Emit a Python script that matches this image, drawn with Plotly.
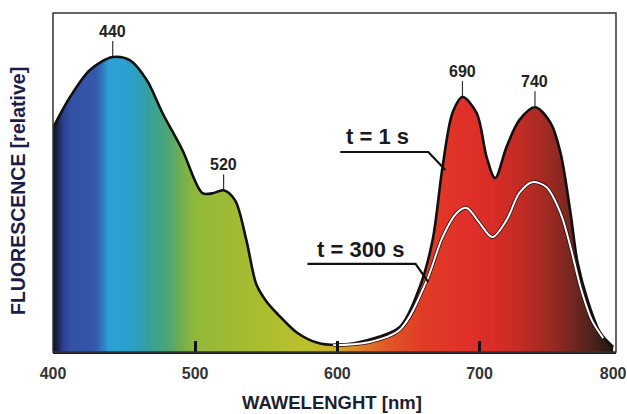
import numpy as np
import plotly.graph_objects as go

# ---------------- data ----------------
wl_1s = [400, 412, 426, 442, 454, 466, 477, 491, 505, 512, 520, 528, 536, 543,
         550, 558, 572, 586, 602, 621, 644, 658, 667, 674, 681, 688, 698, 705,
         711, 719, 728, 739, 750, 757, 764, 769, 776, 785, 794]
fl_1s = [0.661, 0.752, 0.832, 0.870, 0.861, 0.802, 0.705, 0.596, 0.469, 0.468,
         0.477, 0.448, 0.330, 0.200, 0.150, 0.112, 0.056, 0.027, 0.021, 0.035,
         0.074, 0.192, 0.330, 0.546, 0.705, 0.752, 0.705, 0.575, 0.513, 0.605,
         0.684, 0.722, 0.676, 0.587, 0.410, 0.263, 0.153, 0.056, 0.015]

wl_300s = [597, 621, 644, 663, 674, 684, 691, 700, 709, 719, 728, 737, 747,
           757, 764, 771, 779, 787]
fl_300s = [0.020, 0.028, 0.066, 0.212, 0.339, 0.410, 0.425, 0.381, 0.339,
           0.389, 0.469, 0.501, 0.487, 0.410, 0.310, 0.192, 0.094, 0.041]

peak_labels = ["440", "520", "690", "740"]
peak_wl = [442, 520, 688, 739]

tick_vals = [400, 500, 600, 700, 794]
tick_text = ["400", "500", "600", "700", "800"]
major_ticks = [500, 600, 700]

spectrum_wl = [400, 403, 407, 412, 430, 436, 439, 452, 460, 468, 482, 492,
               500, 540, 580, 598, 615, 635, 660, 690, 710, 730, 750, 766,
               780, 794]
spectrum_col = ["#101012", "#1a2248", "#2c3e8e", "#3250a4", "#3458aa",
                "#2f82c4", "#2ea0d8", "#2aa0d0", "#2e9eb8", "#36a09c",
                "#50a670", "#78b048", "#90b83a", "#a8bc30", "#bcc02c",
                "#ccb02a", "#e0802a", "#e05826", "#e03c24", "#e0302a",
                "#d82c26", "#c02c24", "#9a2a22", "#722620", "#4a221a",
                "#1e1812"]

# leader labels: text, text position, leader polyline
leader_text = ["t = 1 s", "t = 300 s"]
leader_text_x = [628, 616]
leader_text_y = [0.637, 0.301]
leader_x = [[602, 664, 676], [579, 655, 664]]
leader_y = [[0.590, 0.590, 0.537], [0.260, 0.260, 0.206]]

# ---------------- figure ----------------
FONT = "Liberation Sans, Arial, Helvetica, sans-serif"
lo, hi = min(wl_1s), max(wl_1s)
cscale = [[(w - lo) / (hi - lo), c] for w, c in zip(spectrum_wl, spectrum_col)]

fig = go.Figure()

fig.add_trace(go.Scatter(
    x=wl_1s, y=fl_1s, mode="lines", fill="tozeroy",
    fillgradient=dict(type="horizontal", colorscale=cscale),
    line=dict(color="#111111", width=2.6, shape="spline", smoothing=0.9),
    hoverinfo="skip", showlegend=False))

fig.add_trace(go.Scatter(
    x=wl_300s, y=fl_300s, mode="lines",
    line=dict(color="#2a1010", width=3.6, shape="spline", smoothing=0.9),
    hoverinfo="skip", showlegend=False))
fig.add_trace(go.Scatter(
    x=wl_300s, y=fl_300s, mode="lines",
    line=dict(color="#ffffff", width=2.0, shape="spline", smoothing=0.9),
    hoverinfo="skip", showlegend=False))

for lx, ly in zip(leader_x, leader_y):
    fig.add_trace(go.Scatter(x=lx, y=ly, mode="lines",
                             line=dict(color="#111111", width=2.2),
                             hoverinfo="skip", showlegend=False))

# invisible trace to carry the label axis
fig.add_trace(go.Scatter(x=[400], y=[0], xaxis="x2", mode="markers",
                         marker=dict(opacity=0), hoverinfo="skip",
                         showlegend=False))

peak_y = np.interp(peak_wl, wl_1s, fl_1s)
for t, px, py in zip(peak_labels, peak_wl, peak_y):
    fig.add_annotation(x=px, y=py, text="<b>%s</b>" % t, showarrow=True,
                       arrowhead=0, arrowwidth=1.2, arrowcolor="#333333",
                       ax=0, ay=-26, standoff=1,
                       font=dict(family=FONT, size=16, color="#222222"))

for t, tx, ty in zip(leader_text, leader_text_x, leader_text_y):
    fig.add_annotation(x=tx, y=ty, text="<b>%s</b>" % t, showarrow=False,
                       font=dict(family=FONT, size=22, color="#1a1a1a"))

fig.add_annotation(xref="paper", yref="paper", x=0, y=0.475, xshift=-35,
                   xanchor="center", yanchor="middle",
                   text="<b>FLUORESCENCE [relative]</b>", textangle=-90,
                   showarrow=False,
                   font=dict(family=FONT, size=19.5, color="#1c1c4a"))
fig.add_annotation(xref="paper", yref="paper", x=0.496, y=0, yshift=-50,
                   xanchor="center", yanchor="middle",
                   text="<b>WAWELENGHT [nm]</b>", showarrow=False,
                   font=dict(family=FONT, size=18.5, color="#1e1e2e"))

fig.add_shape(type="rect", xref="paper", yref="paper", x0=0, x1=1, y0=0,
              y1=1, line=dict(color="#333333", width=1.5), layer="above")

fig.update_layout(
    width=627, height=414,
    margin=dict(l=53, r=11, t=13, b=62, autoexpand=False),
    paper_bgcolor="#ffffff", plot_bgcolor="#ffffff",
    hovermode=False,
    xaxis=dict(range=[400, 796], tickvals=major_ticks, ticks="inside",
               ticklen=11, tickwidth=3, tickcolor="#111111",
               showticklabels=False, showgrid=False, zeroline=False,
               showline=True, linecolor="#1a1a4a", linewidth=2,
               automargin=False),
    xaxis2=dict(range=[400, 796], overlaying="x", side="bottom", anchor="y",
                tickvals=tick_vals, ticktext=tick_text, ticks="",
                showgrid=False, zeroline=False, showline=False,
                ticklabelstandoff=10, automargin=False,
                tickfont=dict(family=FONT, size=16, color="#333333",
                              weight="bold")),
    yaxis=dict(range=[0, 1], showticklabels=False, ticks="", showgrid=False,
               zeroline=False, showline=False, automargin=False),
)

fig.write_html("out.html", config={"displayModeBar": False},
               post_script="document.body.style.margin='0';"
                           "document.body.style.overflow='hidden';")
